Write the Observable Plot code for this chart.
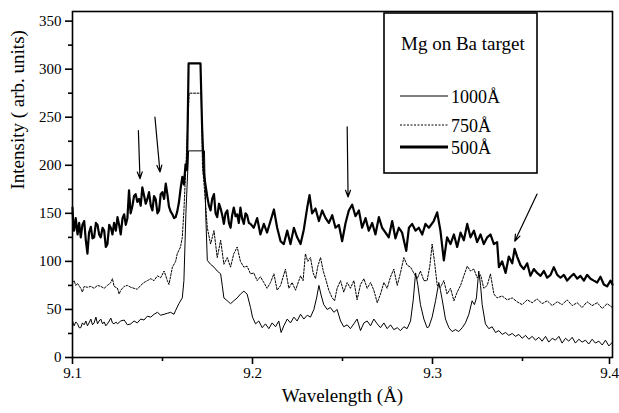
<!DOCTYPE html>
<html><head><meta charset="utf-8">
<script src="https://cdn.jsdelivr.net/npm/d3@7"></script>
<script src="https://cdn.jsdelivr.net/npm/@observablehq/plot@0.6"></script>
<style>
body{margin:0;background:#fff;}
#chart svg{display:block}
#chart svg text{font-family:"Liberation Serif","Times New Roman",serif !important;}
</style>
</head><body><div id="chart"></div>
<script>
// ---- Data ----
const wl500 = [9.1000,9.1005,9.1009,9.1018,9.1028,9.1037,9.1046,9.1055,9.1065,9.1074,9.1083,9.1092,9.1102,9.1111,9.1120,9.1130,9.1139,9.1148,9.1157,9.1167,9.1176,9.1185,9.1194,9.1204,9.1213,9.1222,9.1231,9.1241,9.1250,9.1259,9.1268,9.1278,9.1287,9.1296,9.1305,9.1314,9.1323,9.1333,9.1342,9.1351,9.1360,9.1370,9.1379,9.1388,9.1398,9.1407,9.1416,9.1425,9.1435,9.1444,9.1453,9.1462,9.1472,9.1481,9.1490,9.1499,9.1509,9.1518,9.1527,9.1536,9.1545,9.1555,9.1564,9.1573,9.1582,9.1591,9.1600,9.1610,9.1619,9.1628,9.1636,9.1645,9.1711,9.1720,9.1730,9.1740,9.1749,9.1758,9.1767,9.1776,9.1786,9.1795,9.1804,9.1814,9.1823,9.1832,9.1841,9.1850,9.1860,9.1869,9.1878,9.1887,9.1896,9.1906,9.1915,9.1924,9.1933,9.1942,9.1952,9.1961,9.1970,9.1980,9.1989,9.2007,9.2026,9.2044,9.2063,9.2081,9.2100,9.2119,9.2137,9.2156,9.2174,9.2193,9.2211,9.2230,9.2248,9.2267,9.2285,9.2304,9.2317,9.2331,9.2350,9.2369,9.2387,9.2406,9.2424,9.2443,9.2461,9.2480,9.2498,9.2517,9.2535,9.2554,9.2572,9.2591,9.2609,9.2628,9.2646,9.2665,9.2683,9.2702,9.2720,9.2739,9.2757,9.2776,9.2794,9.2813,9.2831,9.2854,9.2869,9.2887,9.2906,9.2924,9.2943,9.2961,9.2980,9.3007,9.3026,9.3044,9.3063,9.3081,9.3100,9.3119,9.3137,9.3156,9.3174,9.3193,9.3211,9.3230,9.3248,9.3267,9.3285,9.3304,9.3322,9.3341,9.3359,9.3369,9.3387,9.3406,9.3424,9.3443,9.3456,9.3470,9.3489,9.3507,9.3526,9.3544,9.3563,9.3581,9.3600,9.3619,9.3637,9.3656,9.3674,9.3693,9.3711,9.3730,9.3748,9.3767,9.3785,9.3804,9.3822,9.3841,9.3859,9.3878,9.3896,9.3915,9.3933,9.3952,9.3970,9.3989,9.4000];
const int500 = [156,135,132,145,128,140,125,138,142,122,108,130,136,124,125,140,138,128,125,135,132,115,118,138,135,128,140,132,146,138,128,145,149,138,145,174,150,158,168,170,162,165,158,177,168,160,165,172,158,153,168,165,150,153,170,172,165,181,170,157,152,149,145,146,152,161,175,188,180,201,195,306,306,240,191,178,167,158,153,165,170,150,146,160,155,148,139,150,153,140,135,148,156,147,149,140,156,145,139,150,148,140,139,135,145,128,139,130,142,154,135,121,118,132,118,135,125,118,133,156,169,150,155,142,153,145,140,148,135,138,121,140,153,159,147,153,135,145,132,140,128,146,135,130,125,142,124,135,130,111,135,139,132,135,128,139,135,142,151,132,101,125,118,128,115,130,122,139,125,132,120,128,118,125,128,118,120,94,100,88,105,98,113,105,96,92,98,85,92,88,85,90,83,86,94,86,83,86,80,84,87,82,85,80,86,82,80,78,84,76,74,80,76];

const wl750 = [9.1000,9.1009,9.1018,9.1028,9.1046,9.1055,9.1065,9.1083,9.1102,9.1120,9.1139,9.1157,9.1176,9.1194,9.1213,9.1222,9.1231,9.1250,9.1259,9.1268,9.1287,9.1305,9.1324,9.1342,9.1360,9.1379,9.1397,9.1416,9.1435,9.1453,9.1472,9.1490,9.1509,9.1527,9.1536,9.1555,9.1573,9.1582,9.1600,9.1610,9.1619,9.1630,9.1648,9.1715,9.1722,9.1735,9.1749,9.1767,9.1786,9.1804,9.1823,9.1841,9.1860,9.1878,9.1896,9.1915,9.1933,9.1952,9.1970,9.1989,9.2007,9.2026,9.2044,9.2063,9.2081,9.2100,9.2119,9.2137,9.2156,9.2183,9.2202,9.2220,9.2239,9.2267,9.2281,9.2294,9.2307,9.2322,9.2337,9.2350,9.2363,9.2378,9.2393,9.2406,9.2424,9.2443,9.2456,9.2470,9.2489,9.2507,9.2526,9.2544,9.2563,9.2581,9.2600,9.2619,9.2637,9.2656,9.2674,9.2693,9.2711,9.2730,9.2748,9.2767,9.2785,9.2804,9.2822,9.2841,9.2859,9.2878,9.2896,9.2915,9.2933,9.2952,9.2970,9.2985,9.2998,9.3011,9.3026,9.3044,9.3063,9.3081,9.3100,9.3119,9.3137,9.3156,9.3174,9.3193,9.3211,9.3230,9.3248,9.3267,9.3285,9.3304,9.3322,9.3341,9.3359,9.3387,9.3415,9.3443,9.3470,9.3498,9.3526,9.3554,9.3581,9.3609,9.3637,9.3665,9.3693,9.3720,9.3748,9.3776,9.3804,9.3831,9.3859,9.3887,9.3915,9.3943,9.3970,9.4000];
const int750 = [78,80,75,77,72,68,74,73,74,72,75,74,72,75,78,82,74,72,66,70,74,75,73,72,71,75,78,80,82,80,85,83,90,80,76,94,100,108,115,125,153,200,275,275,200,170,135,118,132,104,122,97,104,94,108,115,100,94,95,87,88,80,84,78,72,78,87,70,75,92,72,78,70,85,80,108,100,104,88,82,95,104,90,82,70,62,59,72,80,68,78,72,80,60,76,82,72,78,70,57,66,78,72,84,92,75,88,104,96,94,88,82,90,80,80,95,118,100,75,73,80,66,72,59,68,75,85,95,90,92,83,86,72,75,87,66,62,64,60,62,58,55,60,57,61,56,59,54,58,55,60,54,57,52,58,54,57,51,56,52];

const wl1000 = [9.1000,9.1009,9.1018,9.1028,9.1037,9.1046,9.1055,9.1065,9.1074,9.1083,9.1092,9.1102,9.1111,9.1120,9.1130,9.1139,9.1148,9.1157,9.1167,9.1176,9.1185,9.1194,9.1204,9.1213,9.1222,9.1231,9.1241,9.1250,9.1268,9.1287,9.1305,9.1324,9.1342,9.1360,9.1379,9.1397,9.1416,9.1435,9.1453,9.1472,9.1490,9.1509,9.1527,9.1545,9.1564,9.1573,9.1591,9.1610,9.1619,9.1630,9.1645,9.1733,9.1740,9.1749,9.1767,9.1786,9.1804,9.1823,9.1832,9.1841,9.1860,9.1878,9.1896,9.1915,9.1933,9.1952,9.1970,9.1989,9.2000,9.2017,9.2035,9.2054,9.2072,9.2091,9.2109,9.2128,9.2146,9.2159,9.2174,9.2193,9.2211,9.2230,9.2248,9.2267,9.2285,9.2304,9.2322,9.2341,9.2356,9.2369,9.2381,9.2396,9.2415,9.2433,9.2452,9.2470,9.2489,9.2507,9.2526,9.2544,9.2563,9.2581,9.2600,9.2619,9.2637,9.2656,9.2674,9.2693,9.2711,9.2730,9.2748,9.2767,9.2785,9.2804,9.2822,9.2841,9.2859,9.2878,9.2893,9.2906,9.2919,9.2933,9.2952,9.2970,9.2980,9.2998,9.3017,9.3035,9.3044,9.3054,9.3072,9.3091,9.3109,9.3128,9.3146,9.3165,9.3183,9.3202,9.3220,9.3233,9.3244,9.3257,9.3267,9.3276,9.3294,9.3313,9.3331,9.3350,9.3369,9.3387,9.3406,9.3424,9.3443,9.3461,9.3480,9.3498,9.3517,9.3535,9.3554,9.3572,9.3591,9.3609,9.3628,9.3646,9.3665,9.3683,9.3702,9.3720,9.3739,9.3757,9.3776,9.3794,9.3813,9.3831,9.3850,9.3868,9.3887,9.3905,9.3924,9.3943,9.3961,9.3980,9.4000];
const int1000 = [38,33,37,35,31,31,36,34,38,33,36,40,34,36,42,35,38,40,35,37,33,35,38,41,36,35,37,35,38,39,34,35,38,36,40,39,43,42,45,47,44,45,46,47,45,49,56,62,80,150,215,215,150,101,97,94,90,87,75,62,59,56,59,62,66,69,66,52,42,35,38,31,35,30,36,32,38,26,33,40,36,42,38,45,40,44,42,50,62,75,65,55,50,52,47,50,38,32,34,30,35,40,28,36,38,33,40,35,31,36,30,34,29,31,28,32,30,38,60,88,75,55,40,31,32,42,59,78,70,60,40,31,27,29,27,31,36,45,59,55,62,90,75,55,35,30,32,26,28,24,26,23,25,22,24,20,23,19,22,18,21,17,22,16,20,18,22,15,20,17,21,15,19,16,18,14,19,15,17,13,18,12,16];

const xMajor = [9.1, 9.2, 9.3];
const xEnd = [9.4];
const xMinor = [9.15, 9.25, 9.35];
const yMajor = [0, 50, 100, 150, 200, 250, 300, 350];
const yMinor = [25, 75, 125, 175, 225, 275, 325];

const seriesNames = ["1000Å", "750Å", "500Å"];
const legendTitle = "Mg on Ba target";
const xLabel = "Wavelength (Å)";
const yLabel = "Intensity ( arb. units)";

// annotation arrows (wavelength, intensity)
const arrowX1 = [9.1366, 9.1458, 9.2526, 9.3581];
const arrowY1 = [236, 250, 240, 170];
const arrowX2 = [9.1375, 9.1486, 9.2531, 9.3457];
const arrowY2 = [186, 193, 167, 121];

// ---- Build ----
const rows = (xs, ys) => xs.map((x, i) => ({x, y: ys[i]}));
const arrows = arrowX1.map((d, i) => ({x1: arrowX1[i], y1: arrowY1[i], x2: arrowX2[i], y2: arrowY2[i]}));
const font = "Liberation Serif, Times New Roman, serif";
const fmt = d3.format(".1f");

const chart = Plot.plot({
  width: 619, height: 413,
  marginLeft: 72, marginRight: 7, marginTop: 11, marginBottom: 56,
  style: {fontFamily: font, fontSize: "15px", background: "#fff", color: "#000", overflow: "visible"},
  x: {domain: [9.1, 9.4], label: null},
  y: {domain: [0, 360], label: null},
  marks: [
    Plot.line(rows(wl1000, int1000), {x: "x", y: "y", stroke: "#000", strokeWidth: 1}),
    Plot.line(rows(wl750, int750), {x: "x", y: "y", stroke: "#000", strokeWidth: 1, strokeDasharray: "2,1.5"}),
    Plot.line(rows(wl500, int500), {x: "x", y: "y", stroke: "#000", strokeWidth: 2.2}),
    Plot.arrow(arrows, {x1: "x1", y1: "y1", x2: "x2", y2: "y2", stroke: "#000", strokeWidth: 1.2, headLength: 9, headAngle: 40}),
    Plot.frame({stroke: "#000", strokeWidth: 1.6}),
    Plot.axisX(xMajor, {tickSize: 7, tickPadding: 3, tickFormat: fmt, strokeWidth: 1.6, fontSize: 15, label: null}),
    Plot.axisX(xEnd, {tickSize: 7, tickPadding: 3, tickFormat: fmt, strokeWidth: 1.6, fontSize: 15, dx: -3, label: null}),
    Plot.axisX(xMinor, {tickSize: 4, tickFormat: () => "", strokeWidth: 1.6, label: null}),
    Plot.axisY(yMajor, {tickSize: 7, tickPadding: 4, strokeWidth: 1.6, fontSize: 15, label: null}),
    Plot.axisY(yMinor, {tickSize: 4, tickFormat: () => "", strokeWidth: 1.6, label: null}),
    Plot.text([xLabel], {text: d => d, frameAnchor: "bottom", lineAnchor: "middle", dy: 38, fontSize: 19}),
    Plot.text([yLabel], {text: d => d, frameAnchor: "left", lineAnchor: "middle", dx: -55, dy: 5, rotate: -90, fontSize: 19})
  ]
});
document.getElementById("chart").appendChild(chart);

// ---- Legend box (inside the plot area, top right) ----
const svg = d3.select(chart);
const g = svg.append("g").attr("fill", "#000").attr("text-anchor", "start");
g.append("rect").attr("x", 384).attr("y", 13).attr("width", 153).attr("height", 160)
  .attr("fill", "#fff").attr("stroke", "#000").attr("stroke-width", 1.6);
g.append("text").attr("x", 401).attr("y", 50).attr("font-size", 19).text(legendTitle);
const legendStyles = [
  {w: 1, dash: null},
  {w: 1, dash: "2,1.5"},
  {w: 3, dash: null}
];
const legendRowY = [96, 125, 147];
seriesNames.forEach((name, i) => {
  const y = legendRowY[i];
  const ln = g.append("line").attr("x1", 400).attr("x2", 448).attr("y1", y).attr("y2", y)
    .attr("stroke", "#000").attr("stroke-width", legendStyles[i].w);
  if (legendStyles[i].dash) ln.attr("stroke-dasharray", legendStyles[i].dash);
  g.append("text").attr("x", 451).attr("y", y + 6.5).attr("font-size", 18).text(name);
});
</script>
</body></html>
